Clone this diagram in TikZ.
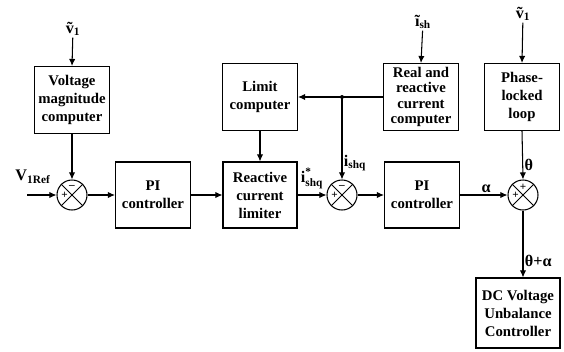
\documentclass[tikz,border=0pt]{standalone}
\usepackage{amsmath}
\usepackage{fontspec}
\setmainfont{Liberation Serif}
\usetikzlibrary{positioning, arrows.meta}

\tikzset{
  block/.style={draw, line width=0.75pt, font=\fontsize{10.5}{12.8}\selectfont\bfseries,
    align=center, inner sep=1pt, minimum width=1.875cm, minimum height=1.675cm},
  sumjn/.style={draw, circle, line width=0.75pt, minimum size=0.75cm, inner sep=0pt},
  sig/.style={-{Latex[length=5pt,width=4.5pt]}, line width=0.75pt},
  lbl/.style={font=\fontsize{11.5}{12}\selectfont\bfseries, inner sep=1pt},
  sgn/.style={font=\fontsize{8}{8}\selectfont\bfseries, inner sep=0pt}
}

\begin{document}
\begin{tikzpicture}[x=0.025cm, y=-0.025cm]
  \useasboundingbox (0,0) rectangle (564,351);

  % ── Upper row of blocks ──
  \node[block] (vmc) at (72,100) {Voltage\\magnitude\\computer};
  \node[block] (lim) at (260,97) {Limit\\computer};
  \node[block, font=\fontsize{10.5}{10.8}\selectfont\bfseries] (rrc) at (421,97)
    {Real and\\reactive\\current\\computer};
  \node[block] (pll) at (522,97) {Phase-\\locked\\loop};

  % ── Main row ──
  \node[sumjn] (s1) at (72,195) {};
  \node[block, minimum height=1.65cm] (pi1) at (153,195) {PI\\controller};
  \node[block, minimum width=1.85cm, minimum height=1.65cm] (rcl) at (260,195) {Reactive\\current\\limiter};
  \node[sumjn] (s2) at (342,195) {};
  \node[block, minimum height=1.65cm] (pi2) at (422,195) {PI\\controller};
  \node[sumjn] (s3) at (523,195) {};

  % ── Bottom right ──
  \node[block, minimum width=2.1cm, minimum height=1.75cm] (dc) at (518,313)
    {DC Voltage\\Unbalance\\Controller};

  % crosses in the summing junctions
  \foreach \s in {s1, s2, s3} {
    \draw[line width=0.6pt] (\s.north west) -- (\s.south east);
    \draw[line width=0.6pt] (\s.north east) -- (\s.south west);
  }
  \node[sgn] (s1m) at ([yshift=-0.2cm]s1.north) {--};
  \node[sgn] (s1p) at ([xshift=0.2cm]s1.west) {+};
  \node[sgn] (s2m) at ([yshift=-0.2cm]s2.north) {--};
  \node[sgn] (s2p) at ([xshift=0.2cm]s2.west) {+};
  \node[sgn] (s3t) at ([yshift=-0.2cm]s3.north) {+};
  \node[sgn] (s3p) at ([xshift=0.2cm]s3.west) {+};

  % ── Input labels ──
  \node[lbl] (vin1) at (73,29) {\~{v}\textsubscript{1}};
  \node[lbl] (ishin) at (423,22) {\~{\i}\textsubscript{sh}};
  \node[lbl] (vin2) at (523,14) {\~{v}\textsubscript{1}};
  \node[lbl] (vref) at (33,177) {V\textsubscript{1Ref}};
  \coordinate (refin) at (27,195);
  \coordinate (br) at (s2 |- rrc.west);

  % ── Connectors ──
  \draw[sig] (vin1) -- (vmc.north);
  \draw[sig] (ishin) -- (rrc.north);
  \draw[sig] (vin2) -- (pll.north);
  \draw[sig] (vmc.south) -- (s1.north);
  \draw[sig] (refin) -- (s1.west);
  \draw[sig] (s1.east) -- (pi1.west);
  \draw[sig] (pi1.east) -- (rcl.west);
  \draw[sig] (lim.south) -- (rcl.north);
  \draw[sig] (rrc.west) -- (lim.east);
  \fill (br) circle (2);
  \draw[sig] (br) -- node[lbl, right, pos=0.8] (ishq) {i\textsubscript{shq}} (s2.north);
  \draw[sig] (rcl.east) -- node[lbl, above=3pt, pos=0.5] (ishqref)
    {$\textbf{i}^{\textbf{*}}_{\textbf{shq}}$} (s2.west);
  \draw[sig] (s2.east) -- (pi2.west);
  \draw[sig] (pi2.east) -- node[lbl, above, pos=0.55] (alph) {α} (s3.west);
  \draw[sig] (pll.south) -- node[lbl, right, pos=0.7] (thet) {θ} (s3.north);
  \draw[sig] (s3.south) -- node[lbl, right, pos=0.75] (thal) {θ+α} (s3 |- dc.north);
\end{tikzpicture}
\end{document}
